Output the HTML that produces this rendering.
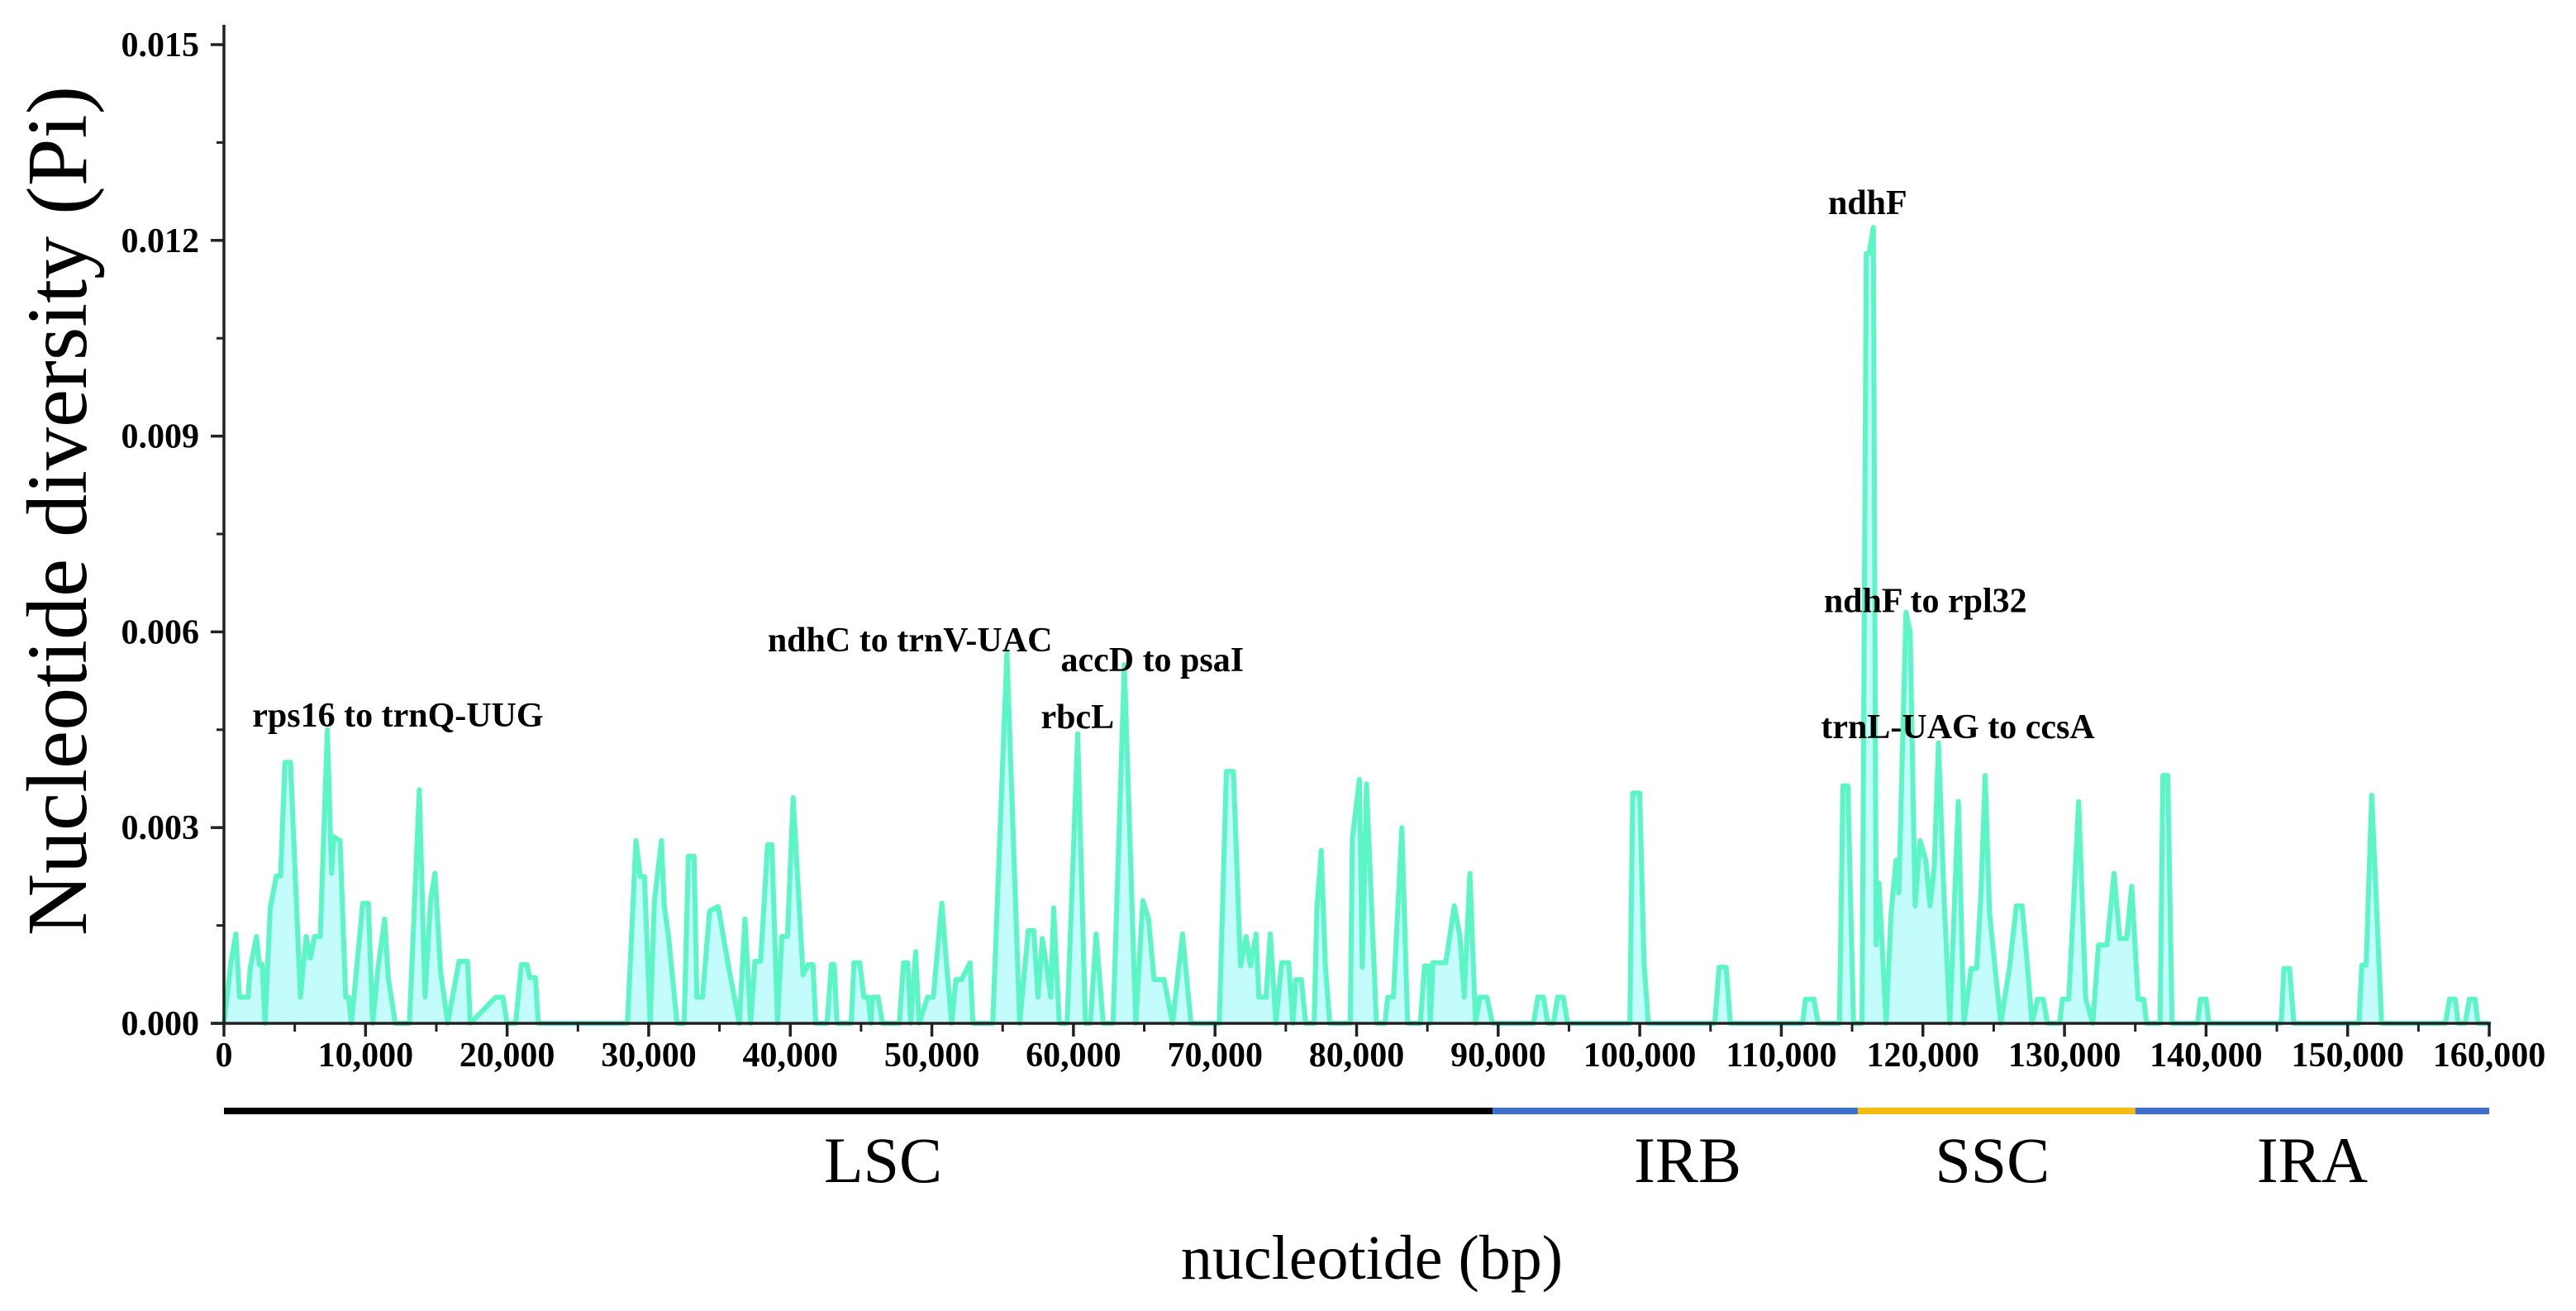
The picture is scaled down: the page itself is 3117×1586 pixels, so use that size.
<!DOCTYPE html>
<html><head><meta charset="utf-8"><style>
html,body{margin:0;padding:0;background:#fff;}
svg{display:block;}
text{font-family:"Liberation Serif",serif;}
</style></head><body>
<svg id="chart" width="3117" height="1586" viewBox="0 0 3117 1586" xmlns="http://www.w3.org/2000/svg">
<g id="plot"></g>
<g id="axes"></g>
<g id="regions"></g>
<text x="0" y="0" transform="translate(104,618) rotate(-90)" font-size="104" text-anchor="middle">Nucleotide diversity (Pi)</text>
<text x="1660" y="1547" font-size="76" text-anchor="middle">nucleotide (bp)</text>
</svg>
<script>
// ---- data ----
const posKb = [0,0.5,0.84,1.1,1.7,1.85,2.3,2.5,2.7,2.9,3.27,3.7,4.0,4.3,4.7,5.4,5.8,6.1,6.4,6.8,7.3,7.6,7.75,8.2,8.6,8.8,9.0,
9.8,10.2,10.5,10.9,11.35,11.6,12.1,13.1,13.8,14.2,14.6,14.9,15.3,15.8,16.6,17.2,17.4,19.2,19.7,20.0,20.6,21.0,21.4,21.6,22.0,22.2,
28.5,29.1,29.4,29.7,30.1,30.4,30.9,31.1,31.4,32.0,32.5,32.8,33.2,33.4,33.8,34.3,34.9,35.7,36.4,36.8,37.2,37.5,37.9,38.4,38.7,39.1,39.4,39.8,40.2,40.9,41.25,41.6,41.8,
42.6,42.9,43.1,43.3,44.3,44.5,44.9,45.2,45.5,45.7,45.8,46.2,46.5,47.7,48.0,48.3,48.5,48.85,49.1,49.7,50.1,50.7,51.0,51.4,51.7,52.1,52.7,52.9,
54.3,55.3,56.2,56.8,57.2,57.5,57.8,58.1,58.4,58.6,59.0,59.55,60.3,60.85,61.2,61.6,62.1,62.8,63.6,64.4,64.9,65.3,65.7,66.4,67.0,67.7,68.3,
70.3,70.8,71.3,71.8,72.2,72.5,72.9,73.1,73.6,73.9,74.3,74.7,75.2,75.5,75.7,76.1,76.4,77.0,77.2,77.5,77.8,78.1,79.55,79.7,80.2,80.4,80.7,81.4,
82.0,82.2,82.6,83.2,83.6,84.5,84.8,85.1,85.2,85.4,85.9,86.3,86.9,87.3,87.6,88.0,88.4,88.7,89.2,89.6,92.5,92.8,93.2,93.5,93.9,94.2,94.6,94.9,
99.3,99.5,100.0,100.3,100.6,105.3,105.6,106.1,106.4,111.5,111.7,112.3,112.6,114.1,114.35,114.7,115.1,115.7,116.0,116.2,116.5,116.7,116.9,117.4,117.75,118.1,118.3,118.8,119.1,119.45,119.8,120.2,120.5,120.8,121.1,121.5,121.9,122.5,122.9,123.4,123.8,124.1,124.4,124.7,125.1,125.5,126.1,126.6,127.0,127.4,127.7,
128.1,128.5,128.8,129.65,129.85,130.3,131.0,131.5,132.0,132.4,133.0,133.5,133.9,134.4,134.75,135.2,135.6,135.8,136.75,136.95,137.3,137.6,139.4,139.6,140.0,140.2,
145.3,145.5,145.9,146.2,150.8,151.0,151.3,151.7,152.4,156.9,157.2,157.6,157.8,158.3,158.6,159.0,159.2,160.0];
const piVals = [0,0.00095,0.00137,0.0004,0.0004,0.00084,0.00133,0.0009,0.0009,0,0.00177,0.00226,0.00226,0.004,0.004,0.0004,0.00133,0.001,0.00133,0.00133,0.0045,0.0023,0.00286,0.0028,0.0004,0.0004,0,
0.00184,0.00184,0,0.00088,0.0016,0.0007,0,0,0.00358,0.0004,0.0019,0.0023,0.0008,0,0.00095,0.00095,0,0.0004,0.0004,0,0,0.0009,0.0009,0.0007,0.0007,0,
0,0.0028,0.00225,0.00225,0,0.00188,0.0028,0.00179,0.00133,0,0,0.00256,0.00256,0.0004,0.0004,0.00172,0.00179,0.0008,0,0.0016,0,0.00095,0.00095,0.00274,0.00274,0,0.00133,0.00133,0.00346,0.00074,0.0009,0.0009,0,
0,0.0009,0.0009,0,0,0.00093,0.00093,0.0004,0.0004,0,0.0004,0.0004,0,0,0.00093,0.00093,0,0.0011,0,0.0004,0.0004,0.00184,0.001,0,0.00067,0.00067,0.00093,0,
0,0.0057,0,0.00142,0.00142,0.0004,0.0013,0.00088,0.0004,0.00177,0,0,0.00444,0,0,0.00137,0,0,0.0055,0,0.00188,0.0016,0.00067,0.00067,0,0.00137,0,
0,0.00386,0.00386,0.00088,0.00133,0.00088,0.00137,0.0004,0.0004,0.00137,0,0.00093,0.00093,0,0.00067,0.00067,0,0,0.00177,0.00265,0.00086,0,0,0.00284,0.00374,0.00086,0.00367,0,
0,0.0004,0.0004,0.003,0,0,0.00088,0.00088,0,0.00093,0.00093,0.00093,0.0018,0.00133,0.0004,0.0023,0,0.0004,0.0004,0,0,0.0004,0.0004,0,0,0.0004,0.0004,0,
0,0.00353,0.00353,0.00093,0,0,0.00086,0.00086,0,0,0.00037,0.00037,0,0,0.00364,0.00364,0,0,0.0118,0.0118,0.0122,0.0012,0.00215,0,0.00168,0.0025,0.002,0.0063,0.006,0.0018,0.0028,0.0025,0.0018,0.0024,0.0043,0.0019,0,0.0034,0,0.00084,0.00084,0.002,0.0038,0.0017,0.00084,0,0.00084,0.0018,0.0018,0.00084,0,
0.00037,0.00037,0,0,0.00037,0.00037,0.0034,0.00037,0,0.0012,0.0012,0.0023,0.0013,0.0013,0.0021,0.00037,0.00037,0,0,0.0038,0.0038,0,0,0.00037,0.00037,0,
0,0.00084,0.00084,0,0,0.00089,0.00089,0.0035,0,0,0.00037,0.00037,0,0,0.00037,0.00037,0,0];
const yTickVals = [0,0.003,0.006,0.009,0.012,0.015];
const yTickLabels = ["0.000","0.003","0.006","0.009","0.012","0.015"];
const xTickVals = [0,10000,20000,30000,40000,50000,60000,70000,80000,90000,100000,110000,120000,130000,140000,150000,160000];
const xTickLabels = ["0","10,000","20,000","30,000","40,000","50,000","60,000","70,000","80,000","90,000","100,000","110,000","120,000","130,000","140,000","150,000","160,000"];
const regionNames = ["LSC","IRB","SSC","IRA"];
const regionStarts = [0,89600,115400,135000];
const regionEnds = [89600,115400,135000,160000];
const regionColors = ["#000000","#3F6FCB","#F2BC11","#3F6FCB"];
const annoLabels = ["rps16 to trnQ-UUG","ndhC to trnV-UAC","accD to psaI","rbcL","ndhF","ndhF to rpl32","trnL-UAG to ccsA"];
const annoX = [2000,38400,59100,57700,113300,113000,112800];
const annoY = [0.00455,0.0057,0.0054,0.00452,0.0124,0.0063,0.00437];

// ---- scales ----
const X0=271, X1=3012, Y0=1238, YTOP=54;
const xs = v => X0 + (v/160000)*(X1-X0);
const ys = v => Y0 - (v/0.015)*(Y0-YTOP);
const NS="http://www.w3.org/2000/svg";
function mk(tag, attrs, parent){const e=document.createElementNS(NS,tag);for(const k in attrs)e.setAttribute(k,attrs[k]);parent.appendChild(e);return e;}
const plot=document.getElementById('plot'), axes=document.getElementById('axes'), regions=document.getElementById('regions');

// series
let d='';
for(let i=0;i<posKb.length;i++){d+=(i?'L':'M')+xs(posKb[i]*1000).toFixed(1)+','+ys(piVals[i]).toFixed(1);}
const area=mk('path',{d:d+'L'+xs(posKb[posKb.length-1]*1000)+','+Y0+'L'+xs(posKb[0]*1000)+','+Y0+'Z',fill:'#C4FCFB',stroke:'none'},plot);


const line=mk('path',{d:d,fill:'none',stroke:'#5CF5C6','stroke-width':6,'stroke-linejoin':'round'},plot);



// axes
const ya=mk('line',{x1:X0,y1:30,x2:X0,y2:Y0+2,stroke:'#222','stroke-width':3.5},axes);


const xa=mk('line',{x1:X0-16,y1:Y0,x2:X1+2,y2:Y0,stroke:'#222','stroke-width':3.5},axes);


for(let i=0;i<yTickVals.length;i++){
  const y=ys(yTickVals[i]);
  mk('line',{x1:X0-16,y1:y,x2:X0,y2:y,stroke:'#222','stroke-width':3.5},axes);
  if(i<yTickVals.length-1) mk('line',{x1:X0-9,y1:ys(yTickVals[i]+0.0015),x2:X0,y2:ys(yTickVals[i]+0.0015),stroke:'#222','stroke-width':3},axes);
  const t=mk('text',{x:X0-30,y:y+14,'font-size':42,'font-weight':'bold','text-anchor':'end'},axes);
  t.textContent=yTickLabels[i];
  
  
}
for(let i=0;i<xTickVals.length;i++){
  const x=xs(xTickVals[i]);
  mk('line',{x1:x,y1:Y0,x2:x,y2:Y0+16,stroke:'#222','stroke-width':3.5},axes);
  if(i<xTickVals.length-1) mk('line',{x1:xs(xTickVals[i]+5000),y1:Y0,x2:xs(xTickVals[i]+5000),y2:Y0+10,stroke:'#222','stroke-width':3},axes);
  const t=mk('text',{x:x,y:1290,'font-size':42,'font-weight':'bold','text-anchor':'middle'},axes);
  t.textContent=xTickLabels[i];
  
  
}

// region bar
const labelShift=[30,15,-5,0];
for(let i=0;i<regionNames.length;i++){
  const seg=mk('line',{x1:xs(regionStarts[i]),y1:1344,x2:xs(regionEnds[i]),y2:1344,stroke:regionColors[i],'stroke-width':8},regions);
  
  
  const cx=(xs(regionStarts[i])+xs(regionEnds[i]))/2;
  const t=mk('text',{x:cx+labelShift[i],y:1430,'font-size':78,'text-anchor':'middle'},regions);
  t.textContent=regionNames[i];
  
  
}

// annotations
for(let i=0;i<annoLabels.length;i++){
  const t=mk('text',{x:xs(annoX[i]),y:ys(annoY[i]),'font-size':42,'font-weight':'bold'},plot);
  t.textContent=annoLabels[i];
  
  
}
</script>
</body></html>
